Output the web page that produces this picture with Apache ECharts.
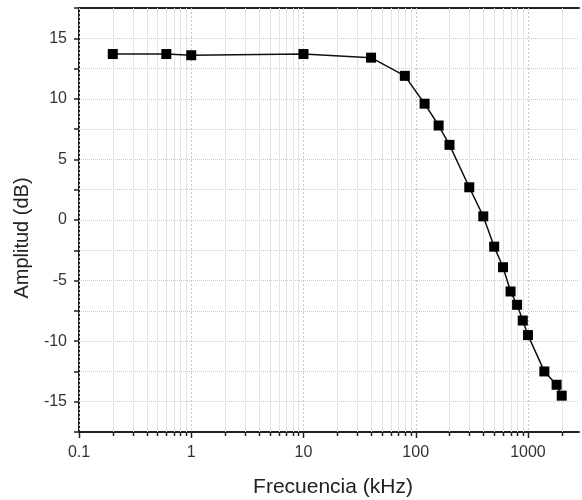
<!DOCTYPE html>
<html lang="es">
<head>
<meta charset="UTF-8">
<title>Amplitud vs Frecuencia</title>
<script src="https://cdn.jsdelivr.net/npm/echarts@6/dist/echarts.min.js"></script>
<style>
  html, body { margin: 0; padding: 0; background: #fff; }
  #main { width: 582px; height: 500px; }
</style>
</head>
<body>
<div id="main"></div>
<script type="text/javascript">
// datos medidos (kHz, dB)
var frecuencia = [0.2, 0.6, 1, 10, 40, 80, 120, 160, 200, 300, 400, 500, 600, 700, 800, 900, 1000, 1400, 1800, 2000];
var amplitud = [13.7, 13.7, 13.6, 13.7, 13.4, 11.9, 9.6, 7.8, 6.2, 2.7, 0.3, -2.2, -3.9, -5.9, -7.0, -8.3, -9.5, -12.5, -13.6, -14.5];

// marcas del eje x (escala log)
var decadas = [0.1, 1, 10, 100, 1000];
var menores = [0.2, 0.3, 0.4, 0.5, 0.6, 0.7, 0.8, 0.9,
               2, 3, 4, 5, 6, 7, 8, 9,
               20, 30, 40, 50, 60, 70, 80, 90,
               200, 300, 400, 500, 600, 700, 800, 900,
               2000];

var Y_MIN = -17.5, Y_MAX = 17.5;
var fuente = "'Liberation Sans', Arial, sans-serif";

var puntos = frecuencia.map(function (f, i) { return [f, amplitud[i]]; });
var marcas = decadas.map(function (v) { return [v, 1]; })
  .concat(menores.map(function (v) { return [v, 0]; }));

var myChart = echarts.init(document.getElementById('main'));

var option = {
  animation: false,
  grid: { left: 79, right: 1, top: 8, bottom: 68 },
  xAxis: [{
    type: 'log',
    logBase: 10,
    min: 0.1,
    max: 2850,
    position: 'bottom',
    axisLine: { onZero: false, lineStyle: { color: '#222', width: 2 } },
    axisTick: { show: false },
    splitLine: { show: false },
    axisLabel: {
      margin: 13,
      color: '#333',
      fontSize: 16,
      fontFamily: fuente,
      formatter: function (v) {
        var l = Math.log10(v);
        return Math.abs(l - Math.round(l)) < 1e-6 ? String(Math.round(v * 10) / 10) : '';
      }
    }
  }, {
    type: 'value',
    position: 'top',
    min: 0,
    max: 1,
    axisLine: { show: true, onZero: false, lineStyle: { color: '#222', width: 2 } },
    axisTick: { show: false },
    axisLabel: { show: false },
    splitLine: { show: false }
  }],
  yAxis: {
    type: 'value',
    min: Y_MIN,
    max: Y_MAX,
    interval: 2.5,
    axisLine: { show: true, onZero: false, lineStyle: { color: '#222', width: 2 } },
    axisTick: { show: true, length: 5, lineStyle: { color: '#222', width: 1.5 } },
    splitLine: { show: true, lineStyle: { color: '#c8c8c8', type: 'dotted', width: 1 } },
    axisLabel: {
      margin: 12,
      color: '#333',
      fontSize: 16,
      fontFamily: fuente,
      formatter: function (v) {
        if (Math.abs(v) > 16) return '';
        return (Math.round(v * 10) % 50 === 0) ? String(v) : '';
      }
    }
  },
  graphic: [{
    type: 'text',
    x: 333,
    y: 477,
    style: { text: 'Frecuencia (kHz)', fill: '#222', font: '21px ' + fuente, align: 'center', verticalAlign: 'top' }
  }, {
    type: 'text',
    x: 12,
    y: 238,
    rotation: Math.PI / 2,
    style: { text: 'Amplitud (dB)', fill: '#222', font: '20px ' + fuente, align: 'center', verticalAlign: 'top' }
  }],
  series: [{
    // rejilla y marcas logaritmicas
    type: 'custom',
    xAxisIndex: 0,
    data: marcas,
    clip: false,
    silent: true,
    z: 1,
    renderItem: function (params, api) {
      var v = api.value(0);
      var mayor = api.value(1) === 1;
      var arriba = api.coord([v, Y_MAX]);
      var abajo = api.coord([v, Y_MIN]);
      var x = Math.round(arriba[0]) + 0.5;
      return {
        type: 'group',
        children: [{
          type: 'line',
          shape: { x1: x, y1: arriba[1], x2: x, y2: abajo[1] },
          style: mayor
            ? { stroke: '#c8c8c8', lineWidth: 1, lineDash: [2, 2] }
            : { stroke: '#e4e4e4', lineWidth: 1 }
        }, {
          type: 'line',
          shape: { x1: x, y1: abajo[1], x2: x, y2: abajo[1] + (mayor ? 6 : 4) },
          style: { stroke: '#222', lineWidth: 1.5 }
        }]
      };
    }
  }, {
    name: 'Amplitud',
    type: 'line',
    xAxisIndex: 0,
    data: puntos,
    z: 5,
    symbol: 'rect',
    symbolSize: 10,
    itemStyle: { color: '#000' },
    lineStyle: { color: '#111', width: 1.5 }
  }]
};

myChart.setOption(option);
</script>
</body>
</html>
